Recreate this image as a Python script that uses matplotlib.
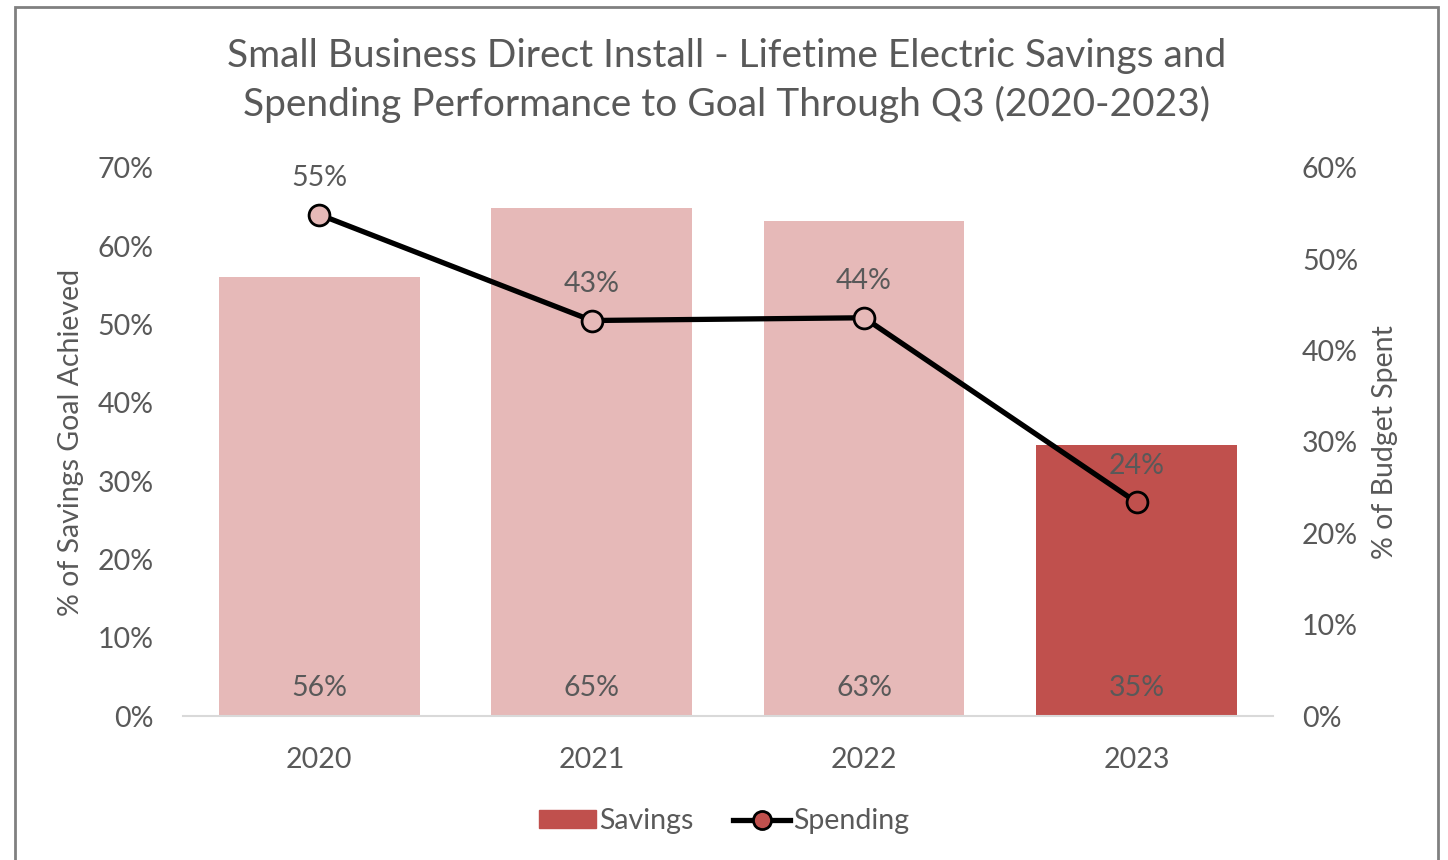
import matplotlib.pyplot as plt
from matplotlib.patches import Rectangle
from matplotlib.lines import Line2D

plt.rcParams['font.family'] = ['Lato', 'DejaVu Sans']

# data
years = ['2020', '2021', '2022', '2023']
savings = [56.1, 64.9, 63.2, 34.6]      # % of savings goal achieved (left axis)
spending = [54.9, 43.3, 43.6, 23.4]     # % of budget spent (right axis)
savings_labels = ['56%', '65%', '63%', '35%']
spending_labels = ['55%', '43%', '44%', '24%']

light = '#E6B9B8'
dark = '#C0504D'
txt = '#595959'
fs = 20.5

fig = plt.figure(figsize=(14.48, 8.6), dpi=100)
ax = fig.add_axes([0.1264, 0.1674, 0.7526, 0.6373])
ax2 = ax.twinx()

x = range(len(years))
bar_colors = [light, light, light, dark]
ax.bar(x, savings, width=0.736, color=bar_colors, zorder=1)
for i, lab in enumerate(savings_labels):
    ax.annotate(lab, (i, 0), xytext=(0, 11), textcoords='offset points',
                ha='center', va='bottom', fontsize=fs, color=txt)

ax2.plot(x, spending, color='black', lw=3.8, zorder=3)
marker_colors = [light, light, light, dark]
for i, v in enumerate(spending):
    ax2.plot(i, v, 'o', ms=15, mfc=marker_colors[i], mec='black', mew=2, zorder=4)
    ax2.annotate(spending_labels[i], (i, v), xytext=(0, 17), textcoords='offset points',
                 ha='center', va='bottom', fontsize=fs, color=txt)

ax.set_xlim(-0.5, 3.5)
ax.set_ylim(0, 70)
ax2.set_ylim(0, 60)
ax.set_xticks(list(x))
ax.set_xticklabels(years)
ax.set_yticks(range(0, 71, 10))
ax.set_yticklabels([f'{v}%' for v in range(0, 71, 10)])
ax2.set_yticks(range(0, 61, 10))
ax2.set_yticklabels([f'{v}%' for v in range(0, 61, 10)])

for a in (ax, ax2):
    for s in a.spines.values():
        s.set_visible(False)
    a.tick_params(length=0, labelsize=fs, colors=txt)
ax.spines['bottom'].set_visible(True)
ax.spines['bottom'].set_color('#D9D9D9')
ax.spines['bottom'].set_linewidth(1.5)
ax.tick_params(axis='x', pad=22)
ax.tick_params(axis='y', pad=21)
ax2.tick_params(axis='y', pad=21)

ax.set_ylabel('% of Savings Goal Achieved', fontsize=fs, color=txt, labelpad=10)
ax2.set_ylabel('% of Budget Spent', fontsize=fs, color=txt, labelpad=10)

fig.text(0.502, 0.906, 'Small Business Direct Install - Lifetime Electric Savings and\n'
         'Spending Performance to Goal Through Q3 (2020-2023)',
         ha='center', va='center', fontsize=28, color=txt, linespacing=1.4)

handles = [Rectangle((0, 0), 1, 1, color=dark),
           Line2D([], [], color='black', lw=3.8, marker='o', ms=13, mfc=dark, mec='black', mew=2)]
fig.legend(handles, ['Savings', 'Spending'], loc='center', bbox_to_anchor=(0.5, 0.045),
           ncol=2, frameon=False, fontsize=fs, labelcolor=txt, handlelength=2.0,
           handleheight=0.6, handletextpad=0.1, columnspacing=1.4)

fig.patches.append(Rectangle((0.0104, -0.05), 0.9827, 1.042, transform=fig.transFigure,
                             fill=False, edgecolor='#808080', lw=2))

fig.savefig('out.png', dpi=100)
